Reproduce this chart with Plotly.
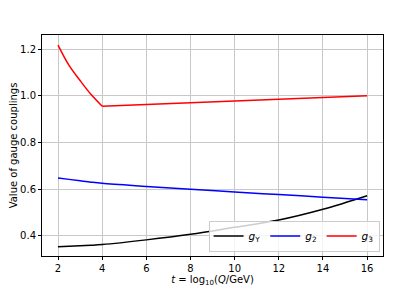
import plotly.graph_objects as go

# values
t = [2, 2.5, 3, 3.5, 4, 6, 8, 10, 12, 14, 16]
g_Y = [0.354, 0.356, 0.358, 0.36, 0.363, 0.383, 0.407, 0.437, 0.468, 0.514, 0.572]
g_2 = [0.648, 0.642, 0.636, 0.63, 0.625, 0.612, 0.6, 0.588, 0.577, 0.566, 0.555]
g_3 = [1.217, 1.13, 1.065, 1.005, 0.955, 0.962, 0.969, 0.976, 0.984, 0.992, 1.0]

xticks = [2, 4, 6, 8, 10, 12, 14, 16]
yticks = [0.4, 0.6, 0.8, 1.0, 1.2]

fig = go.Figure()
fig.add_trace(go.Scatter(x=t, y=g_Y, mode="lines", line=dict(color="black", width=1.5, shape="spline"),
                         name="<i>g</i><sub>Y</sub>"))
fig.add_trace(go.Scatter(x=t, y=g_2, mode="lines", line=dict(color="blue", width=1.5, shape="spline"),
                         name="<i>g</i><sub>2</sub>"))
fig.add_trace(go.Scatter(x=t[:5], y=g_3[:5], mode="lines", line=dict(color="red", width=1.5, shape="spline"),
                         name="<i>g</i><sub>3</sub>", legendgroup="g3"))
fig.add_trace(go.Scatter(x=t[4:], y=g_3[4:], mode="lines", line=dict(color="red", width=1.5),
                         showlegend=False, legendgroup="g3"))

axis_style = dict(showline=True, linecolor="black", linewidth=1, mirror=True,
                  ticks="outside", ticklen=3, tickcolor="black", automargin=False,
                  showgrid=True, gridcolor="#c8c8c8", gridwidth=1, zeroline=False,
                  tickfont=dict(size=10, color="black"))

fig.update_xaxes(range=[1.275, 16.72], tickvals=xticks,
                 ticktext=[str(v) for v in xticks],
                 title=dict(text="<i>t</i> = log<sub>10</sub>(<i>Q</i>/GeV)", font=dict(size=10, color="black"), standoff=2),
                 **axis_style)
fig.update_yaxes(range=[0.314, 1.26], tickvals=yticks,
                 ticktext=["0.4", "0.6", "0.8", "1.0", "1.2"],
                 title=dict(text="Value of gauge couplings", font=dict(size=10, color="black"), standoff=7),
                 **axis_style)

# page has an 8px body margin, so the figure is a bit smaller than the window
fig.update_layout(
    width=407, height=286,
    margin=dict(l=34, r=32, t=27, b=38),
    plot_bgcolor="white", paper_bgcolor="white",
    font=dict(family="DejaVu Sans", size=10, color="black"),
    showlegend=True,
    legend=dict(orientation="h", x=0.99, y=0.02, xanchor="right", yanchor="bottom",
                bgcolor="rgba(255,255,255,0.8)", bordercolor="#cccccc", borderwidth=1,
                font=dict(size=10.5), itemwidth=30, tracegroupgap=0),
)

fig.write_html("out.html")
